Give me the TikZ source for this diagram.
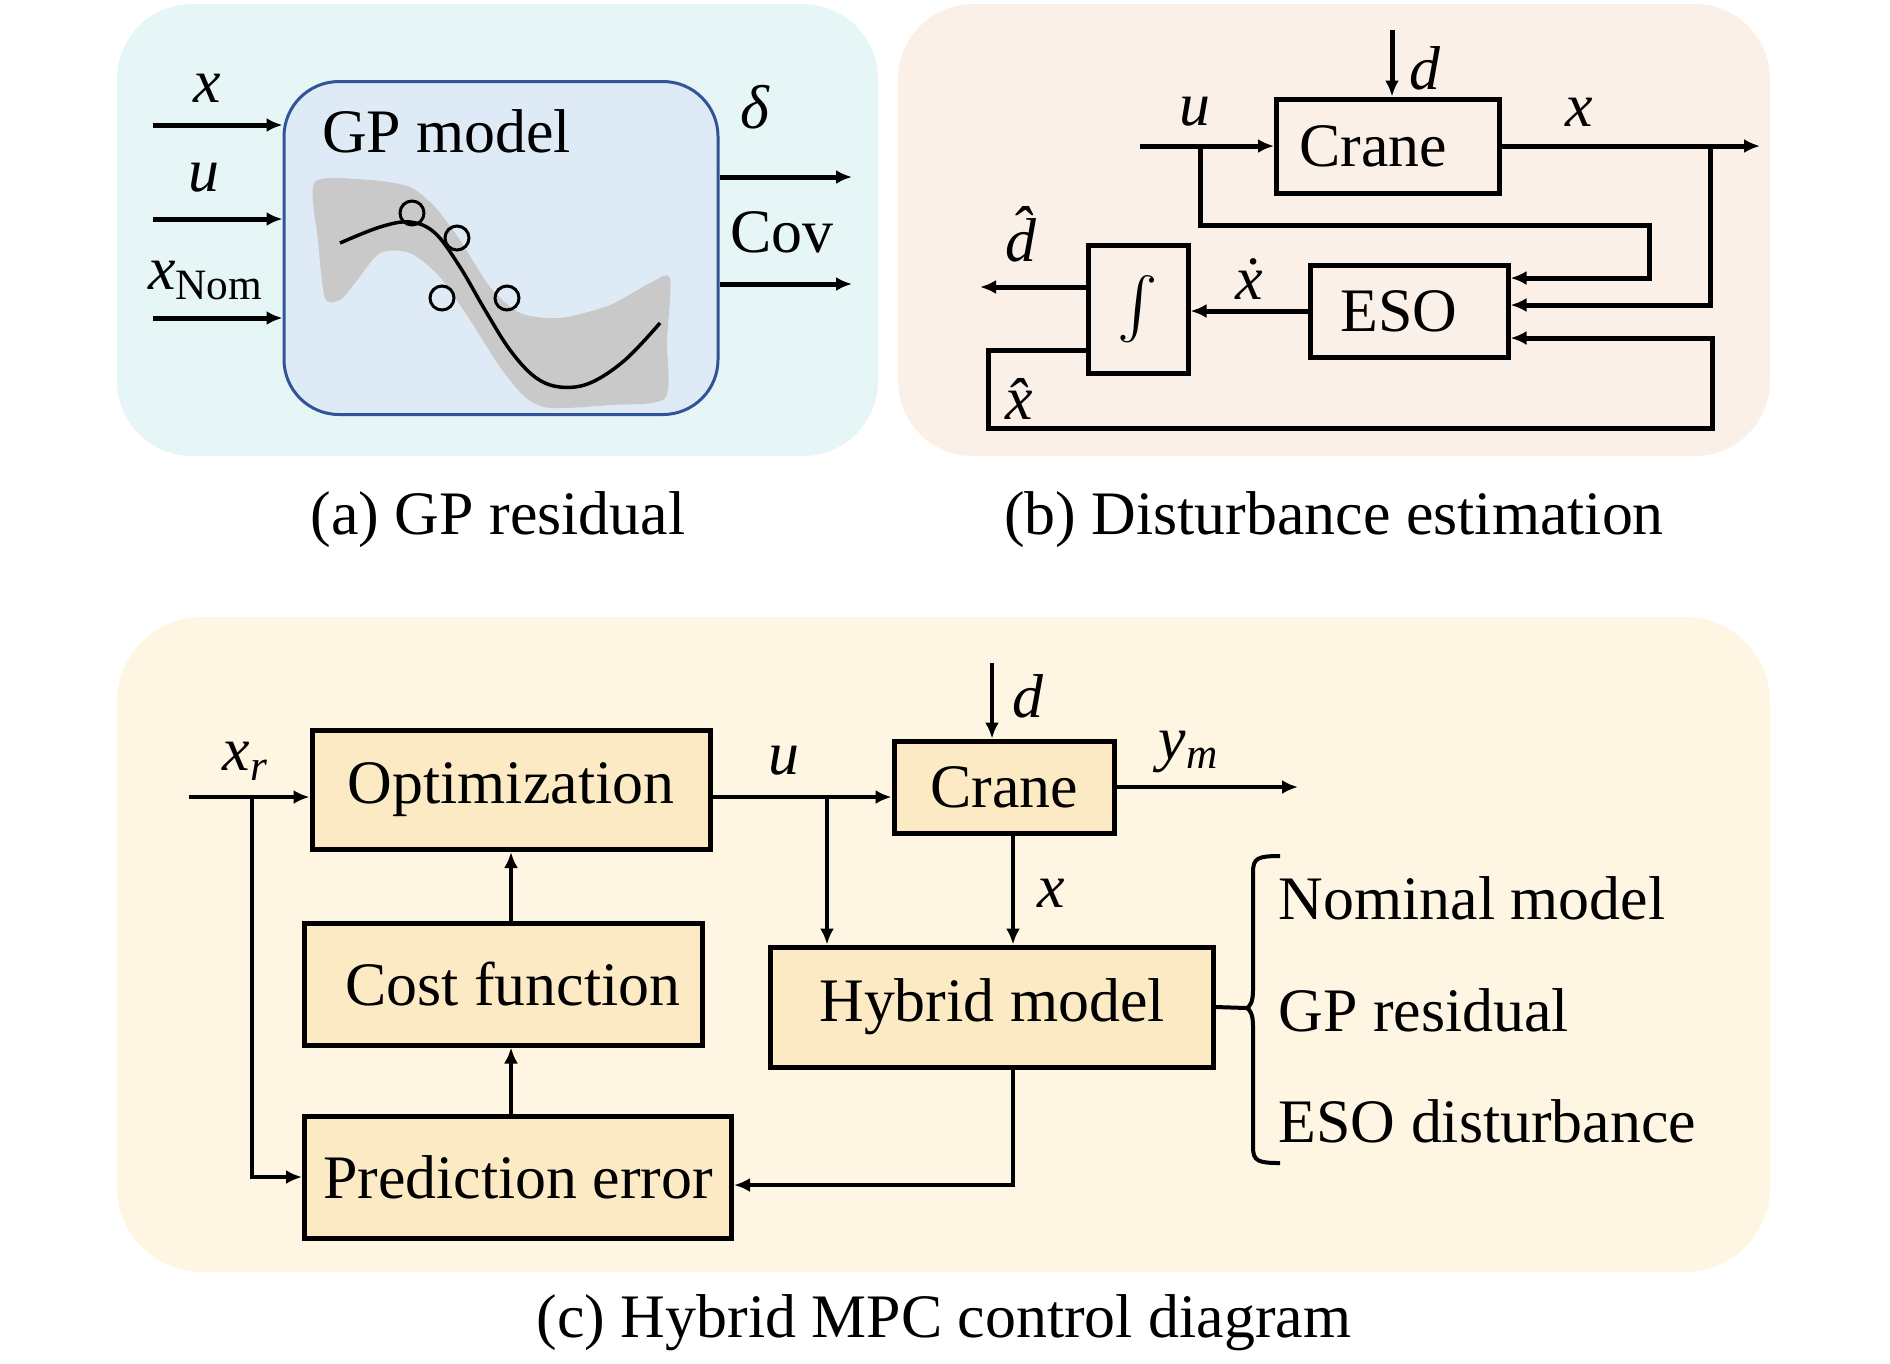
\documentclass[tikz,border=0pt]{standalone}
\usepackage{amsmath}
\usepackage{fontspec}
\setmainfont{Liberation Serif}
\usetikzlibrary{arrows.meta,positioning,calc}
\definecolor{bga}{RGB}{230,245,245}
\definecolor{bgb}{RGB}{251,240,232}
\definecolor{bgc}{RGB}{254,246,226}
\definecolor{gpfill}{RGB}{222,235,247}
\definecolor{gpline}{RGB}{47,85,151}
\definecolor{boxc}{RGB}{252,234,196}
\definecolor{band}{RGB}{201,201,201}
\begin{document}
\begin{tikzpicture}[x=0.1mm, y=-0.1mm, >={Latex[length=1.6mm,width=1.4mm]},
  font=\fontsize{17.6}{21}\selectfont,
  panel/.style={rounded corners=7.5mm},
  blk/.style={draw, line width=0.5mm, fill=boxc, inner sep=0pt},
  sblk/.style={draw, line width=0.5mm, inner sep=0pt},
  lbl/.style={inner sep=0pt},
  sig/.style={->, line width=0.5mm},
  sigc/.style={->, line width=0.4mm}]
\useasboundingbox (0,0) rectangle (1890,1363);
\fill[bga, panel] (117,4) rectangle (878,456);
\fill[bgb, panel] (898,4) rectangle (1770,456);
\fill[bgc, rounded corners=8.5mm] (117,617) rectangle (1770,1272);
\node (capa) at (498,520) {(a) GP residual};
\node (capb) at (1334,520) {(b) Disturbance estimation};
\node (capc) at (944,1323) {(c) Hybrid MPC control diagram};

\node[draw=gpline, fill=gpfill, line width=0.3mm, rounded corners=5.5mm, inner xsep=3.8mm, inner ysep=0pt, text width=35.8mm, align=flush left, text height=7.1mm, text depth=26.2mm] (gpbox) at (501,248) {\mbox{GP model}};
\fill[band] plot[smooth cycle, tension=0.45] coordinates {(315,182) (370,180) (410,187) (435,207) (460,240) (490,287) (520,313) (560,318) (610,305) (650,283) (670,278) (667,340) (665,398) (610,405) (550,408) (525,397) (500,367) (470,320) (440,277) (410,253) (380,253) (355,283) (340,300) (325,298) (318,240)};
\draw[line width=0.35mm] plot[smooth, tension=0.6] coordinates {(340,243) (380,227) (410,222) (435,233) (460,267) (485,310) (510,350) (535,377) (560,387) (590,383) (625,360) (660,323)};
\foreach \cx/\cy in {412/213, 457/238, 442/298, 507/298}
  \draw[line width=0.3mm] (\cx,\cy) circle (1.2mm);
\coordinate (ina) at (153,125);
\coordinate (inb) at (153,219);
\coordinate (inc) at (153,318);
\draw[sig] (ina) -- (ina -| gpbox.west) node[lbl, pos=0.42, above=2mm] (lxa) {\textit{x}};
\draw[sig] (inb) -- (inb -| gpbox.west) node[lbl, pos=0.39, above=2.4mm] (lua) {\textit{u}};
\draw[sig] (inc) -- (inc -| gpbox.west) node[lbl, pos=0.41, above=1.6mm] (lxn) {\textit{x}\textsubscript{Nom}};
\coordinate (outa) at (852,177);
\coordinate (outb) at (852,284);
\draw[sig] (outa -| gpbox.east) -- (outa) node[lbl, pos=0.27, above=4.5mm] (ldelta) {\textit{δ}};
\draw[sig] (outb -| gpbox.east) -- (outb) node[lbl, pos=0.47, above=2.8mm] (lcov) {Cov};

\node[sblk, minimum width=22.3mm, minimum height=9.4mm] (craneb) at (1388,146) {Crane\hspace*{3mm}};
\node[sblk, minimum width=19.8mm, minimum height=9.2mm] (esob) at (1409,311) {ESO\hspace*{2mm}};
\node[sblk, minimum width=10mm, minimum height=12.8mm] (intb) at (1138,309) {$\int$};
\coordinate (dinb) at (1392,30);
\draw[sig] (dinb) -- (dinb |- craneb.north) node[lbl, pos=0.58, right=1.5mm] (ldb) {\textit{d}};
\coordinate (uinb) at (1140,146);
\draw[sig] (uinb) -- (uinb -| craneb.west) node[lbl, pos=0.41, above=1.7mm] (lub) {\textit{u}};
\coordinate (xoutb) at (1760,146);
\draw[sig] (craneb.east) -- (xoutb) node[lbl, pos=0.3, above=1.7mm] (lxb) {\textit{x}};
\coordinate (ubrb) at (1200,146);
\draw[sig] (ubrb) |- ($(esob.east)+(139,-86)$) |- ($(esob.east)+(0,-33)$);
\coordinate (xbrb) at (1710,146);
\draw[sig] (xbrb) |- ($(esob.east)+(0,-6)$);
\draw[sig] (esob.west) -- (esob.west -| intb.east) node[lbl, midway, above=0.9mm] (lxdot) {\textit{\.{x}}};
\coordinate (dhat) at (980,287);
\draw[sig] ($(intb.west)+(0,-22)$) -- (dhat) node[lbl, midway, above=2.2mm] (ldhat) {\textit{\^{d}}};
\draw[sig] ($(intb.west)+(0,41)$) -- ++(-97,0) |- ($(esob.east)+(202,117)$) node[lbl, pos=0.5, above right=0.6mm and 1.4mm] (lxhat) {\textit{\^{x}}} |- ($(esob.east)+(0,27)$);

\node[blk, minimum width=39.8mm, minimum height=11.9mm] (opt) at (511,790) {Optimization};
\node[blk, minimum width=39.8mm, minimum height=12.2mm] (cost) at (503,984) {\hspace*{2mm}Cost function};
\node[blk, minimum width=42.7mm, minimum height=12.2mm] (pred) at (518,1177) {Prediction error};
\node[blk, minimum width=22mm, minimum height=9.2mm] (cranec) at (1004,787) {Crane};
\node[blk, minimum width=44.3mm, minimum height=12mm] (hyb) at (992,1007) {Hybrid model};
\coordinate (xrin) at (189,797);
\draw[sigc] (xrin) -- (xrin -| opt.west) node[lbl, pos=0.47, above=1.5mm] (lxr) {\textit{x\textsubscript{r}}};
\coordinate (xrbr) at (252,797);
\draw[sigc] (xrbr) |- (pred.west);
\draw[sigc] (opt.east |- xrin) -- (cranec.west |- xrin) node[lbl, pos=0.4, above=2mm] (luc) {\textit{u}};
\coordinate (ubrc) at (827,797);
\draw[sigc] (ubrc) -- (ubrc |- hyb.north);
\coordinate (dinc) at (992,663);
\draw[sigc] (dinc) -- (dinc |- cranec.north) node[lbl, pos=0.44, right=1.8mm] (ldc) {\textit{d}};
\coordinate (ymout) at (1298,787);
\draw[sigc] (cranec.east) -- (ymout) node[lbl, pos=0.4, above=1.2mm] (lym) {\textit{y\textsubscript{m}}};
\coordinate (xc) at ($(cranec.south)+(9,0)$);
\draw[sigc] (xc) -- (xc |- hyb.north) node[lbl, pos=0.53, right=2.2mm] (lxc) {\textit{x}};
\draw[sigc] (xc |- hyb.south) |- ($(pred.east)+(0,8)$);
\draw[sigc] (pred.north -| opt.south) -- (cost.south -| opt.south);
\draw[sigc] (cost.north -| opt.south) -- (opt.south);
\coordinate (brtip) at (1247,1008);
\draw[line width=0.4mm] (hyb.east) -- (brtip);
\draw[line width=0.4mm] (1280,856) .. controls (1258,856) and (1253,858) .. (1253,872) -- (1253,990) .. controls (1253,1002) and (1250,1006) .. (brtip) .. controls (1250,1010) and (1253,1014) .. (1253,1026) -- (1253,1147) .. controls (1253,1161) and (1258,1163) .. (1280,1163);
\node[lbl, anchor=west] (tnom) at (1278,898) {Nominal model};
\node[lbl, anchor=west] (tgp) at (1278,1010) {GP residual};
\node[lbl, anchor=west] (teso) at (1278,1121) {ESO disturbance};
\end{tikzpicture}
\end{document}
